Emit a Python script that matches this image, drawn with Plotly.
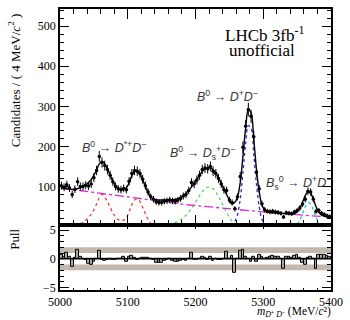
import numpy as np
import plotly.graph_objects as go

# ---------------- data ----------------
bin_lo, bin_w, n_bins = 5000, 4, 100
mass = bin_lo + bin_w / 2 + bin_w * np.arange(n_bins)   # bin centres

counts = [102, 98, 104, 96, 80, 93, 112, 100, 100, 103,
          101, 106, 122, 140, 175, 160, 152, 142, 128, 112,
          100, 94, 92, 95, 92, 113, 132, 140, 138, 132,
          118, 102, 86, 74, 68, 62, 60, 60, 63, 64,
          66, 64, 63, 66, 70, 76, 80, 90, 110, 106,
          116, 128, 142, 146, 144, 150, 138, 132, 120, 106,
          92, 90, 66, 60, 44, 74, 125, 198, 250, 292,
          275, 224, 136, 94, 57, 42, 38, 37, 38, 36,
          35, 33, 24, 34, 33, 32, 36, 40, 46, 56,
          68, 88, 86, 68, 38, 40, 33, 30, 27, 25]

# combinatorial background (magenta dash-dot), value at every bin centre
background = [95.6, 94.8, 94.0, 93.2, 92.4, 91.6, 90.8, 90.0, 89.2, 88.4,
              87.6, 86.8, 86.0, 85.0, 84.1, 83.1, 82.2, 81.2, 80.2, 79.3,
              78.3, 77.4, 76.4, 75.4, 74.4, 73.4, 72.5, 71.6, 70.7, 69.9,
              69.0, 68.0, 67.0, 66.0, 65.0, 64.0, 63.0, 62.0, 61.0, 60.0,
              59.2, 58.4, 57.6, 56.8, 56.0, 55.3, 54.6, 53.9, 53.2, 52.5,
              51.8, 51.1, 50.4, 49.7, 49.0, 48.3, 47.6, 46.9, 46.2, 45.5,
              44.8, 44.2, 43.6, 43.0, 42.4, 41.8, 41.2, 40.6, 40.0, 39.4,
              38.8, 38.2, 37.6, 37.0, 36.3, 35.8, 35.3, 34.8, 34.3, 33.8,
              33.4, 32.9, 32.4, 31.9, 31.4, 31.0, 30.5, 30.0, 29.4, 28.9,
              28.3, 27.8, 27.2, 26.6, 26.1, 25.5, 24.9, 24.4, 23.8, 23.3]

# peaking components: index of first bin, then values
dstar_first = 6     # B0 -> D*+ D-  (red)
dstar_vals = [4, 7, 11, 16, 22, 30, 42, 56, 72, 80, 74, 62, 48, 34, 24, 17,
              15, 16, 22, 36, 54, 66, 69, 62, 48, 32, 18, 8, 3, 1]
dsd_first = 34      # B0 -> Ds+ D-  (green)
dsd_vals = [1, 2, 3, 4, 5, 6, 7, 8, 10, 13, 17, 22, 28, 36, 45, 55,
            66, 77, 87, 94, 98, 98, 94, 86, 75, 62, 48, 35, 23, 13, 6, 2]
bd_first = 64       # B0 -> D+ D-  (blue)
bd_vals = [12, 30, 68, 135, 205, 252, 245, 180, 105, 50, 18, 6, 2]
bsd_first = 86      # Bs0 -> D+ D-  (cyan)
bsd_vals = [2, 6, 16, 32, 49, 59, 56, 41, 23, 10, 4, 1.5, 0.5]

x_ticks = [5000, 5100, 5200, 5300, 5400]

# ---------------- derived ----------------
def full(first, vals):
    arr = np.zeros(n_bins)
    arr[first:first + len(vals)] = vals
    return arr

bkg = np.array(background)
total = (bkg + full(dstar_first, dstar_vals) + full(dsd_first, dsd_vals)
         + full(bd_first, bd_vals) + full(bsd_first, bsd_vals))
cnt = np.array(counts, dtype=float)
err = np.sqrt(cnt)
pulls = (cnt - total) / err

def seg(first, vals):
    lo = max(first - 1, 0)
    hi = min(first + len(vals) + 1, n_bins)
    return mass[lo:hi], full(first, vals)[lo:hi]

fig = go.Figure()

styles = [(dstar_first, dstar_vals, "#e8413c"),
          (dsd_first, dsd_vals, "#5fcf5f"),
          (bd_first, bd_vals, "#2a2ae0"),
          (bsd_first, bsd_vals, "#1ec8c8")]
for f, v, col in styles:
    xs, ys = seg(f, v)
    fig.add_trace(go.Scatter(x=xs, y=ys, mode="lines",
                             line=dict(color=col, width=1.3, dash="dot", shape="spline"),
                             xaxis="x", yaxis="y", showlegend=False, hoverinfo="skip"))

fig.add_trace(go.Scatter(x=mass, y=bkg, mode="lines", line=dict(color="#d02fd0", width=1.3, dash="dashdot"),
                         xaxis="x", yaxis="y", showlegend=False))
fig.add_trace(go.Scatter(x=mass, y=total, mode="lines", line=dict(color="black", width=1.4, shape="spline"),
                         xaxis="x", yaxis="y", showlegend=False))
fig.add_trace(go.Scatter(x=mass, y=cnt, mode="markers",
                         marker=dict(color="black", size=3.5),
                         error_y=dict(type="data", array=err, color="black", thickness=1, width=0),
                         error_x=dict(type="constant", value=bin_w / 2, color="black", thickness=1, width=0),
                         xaxis="x", yaxis="y", showlegend=False))

# pull panel
fig.add_trace(go.Bar(x=mass, y=pulls, width=bin_w,
                     marker=dict(color="#a8a8a8", line=dict(color="black", width=1)),
                     xaxis="x2", yaxis="y2", showlegend=False))

serif = "Liberation Serif"
sans = "Liberation Sans"

common_x = dict(range=[5000, 5400], showline=True, linecolor="black", linewidth=1.5, mirror="allticks",
                ticks="inside", tickcolor="black", tickvals=x_ticks, showgrid=False, zeroline=False,
                minor=dict(ticks="inside", dtick=20, ticklen=5, tickcolor="black", showgrid=False))

fig.update_layout(
    width=350, height=320,
    margin=dict(l=60, r=14, t=7, b=29.5),
    paper_bgcolor="white", plot_bgcolor="white",
    font=dict(family=serif, size=12, color="black"),
    bargap=0,
    xaxis=dict(common_x, domain=[0, 1], anchor="y", ticklen=10, showticklabels=False),
    yaxis=dict(domain=[0.232, 1], range=[4.2, 543], showline=True, linecolor="black", linewidth=1.5,
               mirror="allticks", ticks="inside", ticklen=9, tickcolor="black", dtick=100, tick0=0,
               showgrid=False, zeroline=False, tickfont=dict(size=12),
               minor=dict(ticks="inside", dtick=20, ticklen=4.5, tickcolor="black", showgrid=False)),
    xaxis2=dict(common_x, domain=[0, 1], anchor="y2", ticklen=4, tickfont=dict(size=12),
                minor=dict(ticks="inside", dtick=20, ticklen=2.5, tickcolor="black", showgrid=False)),
    yaxis2=dict(domain=[0, 0.232], range=[-5.43, 5.91], showline=True, linecolor="black", linewidth=1.5,
                mirror="allticks", ticks="inside", ticklen=9, tickcolor="black", tickvals=[-5, 0, 5],
                ticktext=["\u22125", "0", "5"], showgrid=False, zeroline=False, tickfont=dict(size=12),
                minor=dict(ticks="inside", dtick=1, ticklen=4.5, tickcolor="black", showgrid=False)),
    shapes=[
        dict(type="rect", xref="x2", yref="y2", x0=5000, x1=5400, y0=1, y1=2, fillcolor="#c2b8ad",
             line=dict(width=0), layer="below"),
        dict(type="rect", xref="x2", yref="y2", x0=5000, x1=5400, y0=-2, y1=-1, fillcolor="#c2b8ad",
             line=dict(width=0), layer="below"),
        dict(type="line", xref="x2", yref="y2", x0=5000, x1=5400, y0=0, y1=0,
             line=dict(color="black", width=1.5)),
    ],
)

ann = []
def add(text, x, y, size=12, family=serif, color="black", angle=0, xanchor="center", yanchor="middle"):
    ann.append(dict(text=text, x=x, y=y, xref="paper", yref="paper", showarrow=False, textangle=angle,
                    font=dict(family=family, size=size, color=color), xanchor=xanchor, yanchor=yanchor))

# paper coords helpers (plot area: x 60..336, y 7..290.5)
def px(xp):
    return (xp - 60) / 276.0
def py(yp):
    return (290.5 - yp) / 283.5

add("Candidates / ( 4 MeV/<i>c</i><sup>2</sup> )", px(14), py(79), size=13, angle=-90)
add("Pull", px(14), py(239), size=13, angle=-90)
add("<i>m</i><sub><i>D</i>\u207a <i>D</i>\u207b</sub> (MeV/<i>c</i>\u00b2)", px(338), py(322),
    size=11.5, xanchor="right", yanchor="bottom")
add("LHCb 3fb<sup>-1</sup>", px(268), py(32), size=17)
add("unofficial", px(266), py(49), size=17)
grey = "#3a3a3a"
add("<i>B</i><sup>0</sup> \u2192 <i>D</i><sup>*+</sup><i>D</i><sup>\u2212</sup>", px(115), py(146), size=12.5, family=sans, color=grey)
add("<i>B</i><sup>0</sup> \u2192 <i>D</i><sub>s</sub><sup>+</sup><i>D</i><sup>\u2212</sup>", px(205), py(152), size=12.5, family=sans, color=grey)
add("<i>B</i><sup>0</sup> \u2192 <i>D</i><sup>+</sup><i>D</i><sup>\u2212</sup>", px(231), py(95), size=12.5, family=sans, color=grey)
add("<i>B</i><sub>s</sub><sup>0</sup> \u2192 <i>D</i><sup>+</sup><i>D</i><sup>\u2212</sup>", px(303), py(183), size=12.5, family=sans, color=grey)
fig.update_layout(annotations=ann)

fig.write_html("out.html", config={"displayModeBar": False},
               post_script="document.body.style.margin='0px';")
